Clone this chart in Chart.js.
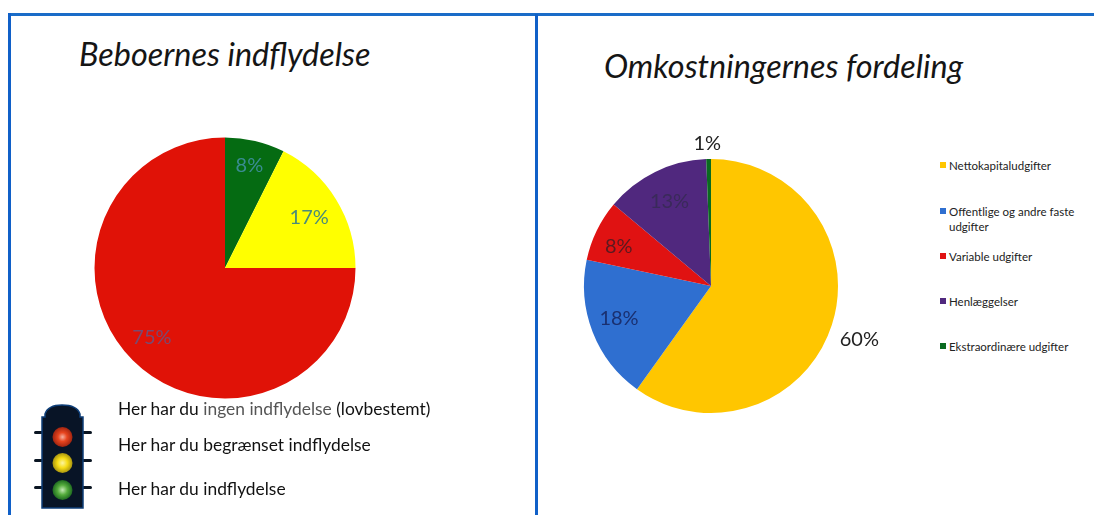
<!DOCTYPE html>
<html><head><meta charset="utf-8">
<script src="https://cdn.jsdelivr.net/npm/chart.js@4/dist/chart.umd.js"></script>
<style>
html,body{margin:0;padding:0;background:#fff;width:1094px;height:515px;overflow:hidden;font-family:Lato,"Open Sans",sans-serif;color:#111}
.abs{position:absolute;white-space:nowrap}
.h{height:3px;background:#1a6cc8}
.v{width:3px;background:#1060c8}
canvas{position:absolute}
.title{font-style:italic;font-size:32.4px;line-height:36px;color:#151515}
.t{font-size:17.4px;line-height:20px}
.lg{font-size:11.5px;line-height:15px;color:#222}
.sw{position:absolute;width:6px;height:6px}
</style></head><body>
<div class="abs h" style="left:9px;top:13px;width:1085px"></div>
<div class="abs v" style="left:8px;top:13px;height:502px"></div>
<div class="abs v" style="left:535px;top:14px;height:501px"></div>
<div class="abs title" style="left:79px;top:36px">Beboernes indflydelse</div>
<div class="abs title" style="left:604px;top:48px">Omkostningernes fordeling</div>
<canvas id="left" width="400" height="300" style="left:24.5px;top:117.5px"></canvas>
<canvas id="right" width="360" height="374" style="left:531px;top:99px"></canvas>
<svg class="abs" style="left:30px;top:400px" width="70" height="115">
<defs>
<radialGradient id="r"><stop offset="0" stop-color="#f4b0a0"/><stop offset=".45" stop-color="#e8451f"/><stop offset="1" stop-color="#a02410"/></radialGradient>
<radialGradient id="y"><stop offset="0" stop-color="#fbf4a0"/><stop offset=".5" stop-color="#f6dc14"/><stop offset="1" stop-color="#a89410"/></radialGradient>
<radialGradient id="g"><stop offset="0" stop-color="#c4e8b4"/><stop offset=".5" stop-color="#54ac3c"/><stop offset="1" stop-color="#1e6a20"/></radialGradient>
</defs>
<rect x="4" y="31" width="10" height="3" rx="1.5" fill="#0a1522"/><rect x="52" y="31" width="10" height="3" rx="1.5" fill="#0a1522"/>
<rect x="4" y="59" width="10" height="3" rx="1.5" fill="#0a1522"/><rect x="52" y="59" width="10" height="3" rx="1.5" fill="#0a1522"/>
<rect x="4" y="86" width="10" height="3" rx="1.5" fill="#0a1522"/><rect x="52" y="86" width="10" height="3" rx="1.5" fill="#0a1522"/>
<path d="M12 108V17H15V14Q18 5 32 5Q47 5 50 14V17H53V108Z" fill="#081426" stroke="#0e3e78" stroke-width="1.5"/>
<circle cx="32.5" cy="37" r="10" fill="url(#r)"/>
<circle cx="32.5" cy="63" r="10" fill="url(#y)"/>
<circle cx="32.5" cy="90" r="10" fill="url(#g)"/>
</svg>
<div class="abs t" style="left:118px;top:399px">Her har du <span style="color:#555">ingen indflydelse</span> (lovbestemt)</div>
<div class="abs t" style="left:118px;top:435px">Her har du begrænset indflydelse</div>
<div class="abs t" style="left:118px;top:479px">Her har du indflydelse</div>
<div id="legend"></div>
<script>
const influenceLabels = ["Her har du indflydelse","Her har du begrænset indflydelse","Her har du ingen indflydelse (lovbestemt)"];
const influenceValues = [7.4,17.6,75];
const influencePrinted = ["8%","17%","75%"];
const influenceColors = ["#056b12","#ffff00","#e01207"];
const influenceText = ["#3a8c92","#4b8b7a","#7a4a70"];
const costLabels = ["Nettokapitaludgifter","Offentlige og andre faste udgifter","Variable udgifter","Henlæggelser","Ekstraordinære udgifter"];
const costValues = [59.9,18.4,7.8,13.3,0.6];
const costPrinted = ["60%","18%","8%","13%","1%"];
const costColors = ["#ffc600","#2f6fd0","#e01212","#50287e","#0a6a20"];
const costText = ["#222","#1a3070","#5a1a20","#3a2a5a","#222"];

const pctLabels = {
  id:'pctLabels',
  afterDatasetsDraw(chart, args, opts){
    const {ctx} = chart, arcs = chart.getDatasetMeta(0).data;
    ctx.save();
    ctx.font = opts.font; ctx.textAlign='center'; ctx.textBaseline='middle';
    arcs.forEach((a,i)=>{
      const mid=(a.startAngle+a.endAngle)/2, r=a.outerRadius*opts.radial[i];
      ctx.fillStyle=opts.colors[i];
      ctx.fillText(opts.printed[i], a.x+Math.cos(mid)*r+opts.shiftX[i], a.y+Math.sin(mid)*r+opts.shiftY[i]);
    });
    ctx.restore();
  }
};
function pie(id,labels,values,colors,radius,printed,text,radial,shiftX,shiftY){
  return new Chart(document.getElementById(id),{
    type:'pie',
    data:{labels,datasets:[{data:values,backgroundColor:colors,borderWidth:0,radius}]},
    options:{responsive:false,animation:false,layout:{padding:0},
      plugins:{legend:{display:false},tooltip:{enabled:false},
        pctLabels:{font:'20px Lato',printed,colors:text,radial,shiftX,shiftY}}},
    plugins:[pctLabels]
  });
}
pie('left',influenceLabels,influenceValues,influenceColors,130.5,influencePrinted,influenceText,[0.81,0.74,0.77],[0,2,-2],[0,0,-2]);
pie('right',costLabels,costValues,costColors,127,costPrinted,costText,[1.235,0.76,0.79,0.76,1.13],[-1,-2,-2,1,-1],[6,-2,4,2,1]);

const lgY=[165,211,256,301,346];
const lg=document.getElementById('legend');
costLabels.forEach((l,i)=>{
  const s=document.createElement('div');s.className='sw';s.style.cssText=`left:940px;top:${lgY[i]-3}px;background:${costColors[i]}`;lg.appendChild(s);
  const d=document.createElement('div');d.className='abs lg';
  d.style.cssText=`left:949px;top:${lgY[i]-7.5}px;width:132px;white-space:normal`;d.textContent=l;lg.appendChild(d);
});
</script>
</body></html>
